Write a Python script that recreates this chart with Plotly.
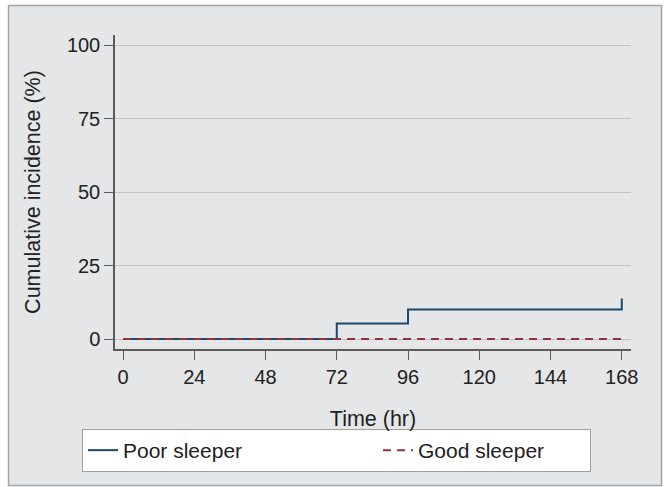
import plotly.graph_objects as go

# Data
poor_time = [0, 72, 96, 168, 168]
poor_incidence = [0, 5.3, 10.0, 10.0, 13.8]
good_time = [0, 168]
good_incidence = [0, 0]
x_ticks = [0, 24, 48, 72, 96, 120, 144, 168]
y_ticks = [0, 25, 50, 75, 100]

W, H = 665, 487
ml, mr, mt, mb = 115, 34, 35, 138
pw, ph = W - ml - mr, H - mt - mb

def px(xp):
    return (xp - ml) / pw

def py(yp):
    return (H - mb - yp) / ph

FONT = "Liberation Sans, Arial, sans-serif"
TXT = "#222222"

fig = go.Figure()
fig.add_trace(go.Scatter(x=poor_time, y=poor_incidence, mode="lines", name="Poor sleeper",
                         line=dict(color="#1a476f", width=2, shape="hv"), legendwidth=250))
fig.add_trace(go.Scatter(x=good_time, y=good_incidence, mode="lines", name="Good sleeper",
                         line=dict(color="#90353b", width=2, dash="8px,6px"), legendwidth=167))

fig.add_shape(type="rect", xref="paper", yref="paper",
              x0=px(8.5), x1=px(661.5), y0=py(485.5), y1=py(5.5),
              fillcolor="#e5e6e8", line=dict(color="#a3a3a3", width=1.5), layer="below")

fig.update_layout(
    width=W, height=H,
    margin=dict(l=ml, r=mr, t=mt, b=mb, autoexpand=False),
    paper_bgcolor="white", plot_bgcolor="white",
    font=dict(family=FONT, size=20, color=TXT),
    showlegend=True,
    legend=dict(orientation="h", x=px(82), y=py(429), xanchor="left", yanchor="top",
                bgcolor="white", bordercolor="#a0a0a0", borderwidth=1,
                font=dict(size=21, color=TXT), itemclick=False),
    xaxis=dict(range=[-2.7, 171.1], tickvals=x_ticks, ticktext=[str(v) for v in x_ticks],
               showgrid=False, zeroline=False, showline=True, linecolor="#5a5a5a", linewidth=1.5,
               ticks="outside", ticklen=9, tickwidth=1.2, tickcolor="#5a5a5a",
               tickfont=dict(size=20, color=TXT),
               title=dict(text="Time (hr)", font=dict(size=21.5, color=TXT), standoff=24)),
    yaxis=dict(range=[-3.4, 103.4], tickvals=y_ticks, ticktext=[str(v) for v in y_ticks],
               showgrid=True, gridcolor="#c4c4c4", gridwidth=1, zeroline=False,
               showline=True, linecolor="#5a5a5a", linewidth=1.5,
               ticks="outside", ticklen=9, tickwidth=1.2, tickcolor="#5a5a5a",
               tickfont=dict(size=20, color=TXT),
               title=dict(text="Cumulative incidence (%)", font=dict(size=21.5, color=TXT), standoff=20)),
)

fig.write_html("out.html")
